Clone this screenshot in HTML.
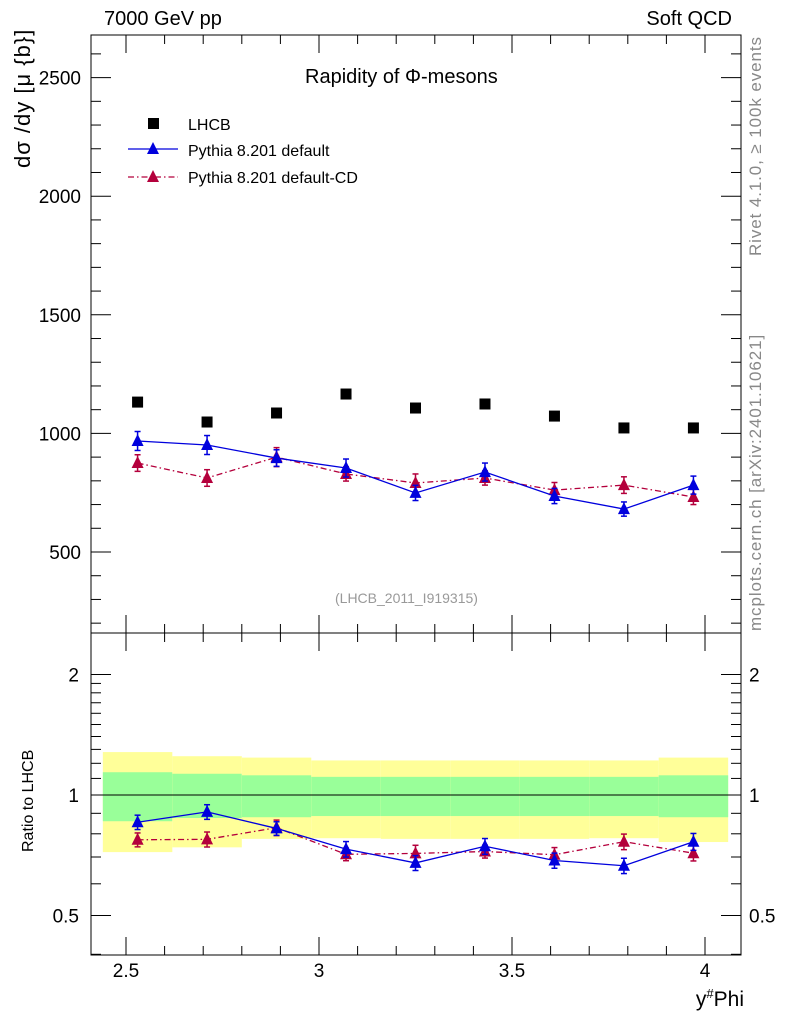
<!DOCTYPE html>
<html><head><meta charset="utf-8"><style>
body{margin:0;background:#fff;}
svg{display:block;font-family:"Liberation Sans",sans-serif;}
</style></head><body>
<svg id="c" width="786" height="1024" viewBox="0 0 786 1024"></svg>
<script>
const xCenters=[2.53,2.71,2.89,3.07,3.25,3.43,3.61,3.79,3.97];
const binHalf=0.09;
const lhcb=[1132,1048,1086,1166,1107,1124,1073,1023,1023];
const pyDef=[968,951,896,854,749,837,736,681,782];
const pyDefErr=[40,40,35,38,32,38,32,30,38];
const pyCD=[875,812,900,829,791,812,761,782,732];
const pyCDErr=[35,35,40,30,38,30,32,35,32];
const yelUp=[1.28,1.25,1.24,1.22,1.22,1.22,1.22,1.22,1.24];
const grnUp=[1.14,1.13,1.12,1.11,1.11,1.11,1.11,1.11,1.12];
const grnLo=[0.86,0.876,0.88,0.886,0.886,0.886,0.886,0.886,0.88];
const yelLo=[0.72,0.74,0.777,0.78,0.777,0.777,0.777,0.78,0.763];
const mainTicks=[500,1000,1500,2000,2500];
const ratioTicks=[0.5,1,2];
const xTicks=[2.5,3,3.5,4];

const svg=document.getElementById('c');
const NS='http://www.w3.org/2000/svg';
function el(t,a,p){const e=document.createElementNS(NS,t);for(const k in a)e.setAttribute(k,a[k]);(p||svg).appendChild(e);return e;}
const L=91,R=741,T=35,MB=633,RB=955;
const X=v=>126+(v-2.5)*386;
const Y=v=>552-(v-500)*0.2372;
const RY=v=>795-120.5*Math.log2(v);

for(let i=0;i<xCenters.length;i++){
 const x0=X(xCenters[i]-binHalf),x1=X(xCenters[i]+binHalf);
 let b=el('rect',{x:x0,y:RY(yelUp[i]),width:x1-x0,height:RY(yelLo[i])-RY(yelUp[i]),fill:'#ffff99'});
 
 
 b=el('rect',{x:x0,y:RY(grnUp[i]),width:x1-x0,height:RY(grnLo[i])-RY(grnUp[i]),fill:'#99ff99'});
 
 
}
el('line',{x1:L,x2:R,y1:RY(1),y2:RY(1),stroke:'#000','stroke-width':1});

el('rect',{x:L,y:T,width:R-L,height:MB-T,fill:'none',stroke:'#000','stroke-width':1});
el('rect',{x:L,y:MB,width:R-L,height:RB-MB,fill:'none',stroke:'#000','stroke-width':1});

for(let v=200;v<=2600;v+=100){const y=Y(v);if(y<T||y>MB)continue;const m=v%500===0;const l=m?20:10;
 el('line',{x1:L,x2:L+l,y1:y,y2:y,stroke:'#000'});el('line',{x1:R,x2:R-l,y1:y,y2:y,stroke:'#000'});}
mainTicks.forEach(v=>{const t=el('text',{x:L-10,y:Y(v)+7,'text-anchor':'end','font-size':19});t.textContent=v;
 });
for(let v=0.4;v<=2.05;v+=0.1){const vv=Math.round(v*10)/10;const y=RY(vv);if(y<MB||y>RB)continue;
 const m=ratioTicks.includes(vv);const l=m?20:10;
 el('line',{x1:L,x2:L+l,y1:y,y2:y,stroke:'#000'});el('line',{x1:R,x2:R-l,y1:y,y2:y,stroke:'#000'});}
ratioTicks.forEach(v=>{let t=el('text',{x:L-12,y:RY(v)+7,'text-anchor':'end','font-size':19});t.textContent=v;
 
 t=el('text',{x:R+8,y:RY(v)+7,'font-size':19});t.textContent=v;
 });
for(let v=2.4;v<=4.1;v+=0.1){const vv=Math.round(v*10)/10;const x=X(vv);if(x<L||x>R)continue;const m=Math.abs(vv*2-Math.round(vv*2))<1e-6;const l=m?18:9;
 [T,MB].forEach(y=>el('line',{x1:x,x2:x,y1:y,y2:y+l,stroke:'#000'}));
 [MB,RB].forEach(y=>el('line',{x1:x,x2:x,y1:y,y2:y-l,stroke:'#000'}));}
xTicks.forEach(v=>{const t=el('text',{x:X(v),y:977,'text-anchor':'middle','font-size':19});t.textContent=v;
 });

function tri(x,y,c,g){el('polygon',{points:`${x},${y-7} ${x-6},${y+5} ${x+6},${y+5}`,fill:c},g);}
function series(vals,errs,c,dash,name,yf,ratio){
 const g=el('g',{});
 const pts=vals.map((v,i)=>[X(xCenters[i]),yf(ratio?v/lhcb[i]:v)]);
 el('polyline',{points:pts.map(p=>p.join(',')).join(' '),fill:'none',stroke:c,'stroke-width':1.3,'stroke-dasharray':dash},g);
 vals.forEach((v,i)=>{const x=pts[i][0];const hi=yf(ratio?(v+errs[i])/lhcb[i]:v+errs[i]),lo=yf(ratio?(v-errs[i])/lhcb[i]:v-errs[i]);
  el('line',{x1:x,x2:x,y1:hi,y2:lo,stroke:c,'stroke-width':1.5},g);
  el('line',{x1:x-3,x2:x+3,y1:hi,y2:hi,stroke:c,'stroke-width':1.5},g);
  el('line',{x1:x-3,x2:x+3,y1:lo,y2:lo,stroke:c,'stroke-width':1.5},g);
  tri(x,pts[i][1],c,g);});
}
const gl=el('g',{});
lhcb.forEach((v,i)=>el('rect',{x:X(xCenters[i])-5.5,y:Y(v)-5.5,width:11,height:11,fill:'#000'},gl));
series(pyCD,pyCDErr,'#b4003c','6,3,1.5,3','pythia-cd-series',Y,false);
series(pyDef,pyDefErr,'#0000dd','','pythia-default-series',Y,false);
series(pyCD,pyCDErr,'#b4003c','6,3,1.5,3','pythia-cd-ratio',RY,true);
series(pyDef,pyDefErr,'#0000dd','','pythia-default-ratio',RY,true);

el('rect',{x:148,y:118,width:11,height:11,fill:'#000'});
el('line',{x1:128,x2:178,y1:149,y2:149,stroke:'#0000dd','stroke-width':1.3});tri(153,149,'#0000dd');
el('line',{x1:128,x2:178,y1:177,y2:177,stroke:'#b4003c','stroke-width':1.3,'stroke-dasharray':'6,3,1.5,3'});tri(153,177,'#b4003c');
[['LHCB',130],['Pythia 8.201 default',156],['Pythia 8.201 default-CD',183]].forEach(([s,y])=>{const t=el('text',{x:188,y:y,'font-size':16});t.textContent=s;
 });
</script>
<div style="position:absolute;left:0;top:0;width:786px;height:1024px;font-family:'Liberation Sans',sans-serif;pointer-events:none">
<div style="position:absolute;left:104px;top:8px;font-size:20px">7000 GeV pp</div>
<div style="position:absolute;right:54px;top:8px;font-size:20px">Soft QCD</div>
<div style="position:absolute;left:305px;top:66px;font-size:20px">Rapidity of Φ-mesons</div>
<div style="position:absolute;left:10px;top:168px;font-size:22px;letter-spacing:1px;transform:rotate(-90deg);transform-origin:0 0;white-space:nowrap">dσ /dy [μ {b}]</div>
<div style="position:absolute;left:20px;top:852px;font-size:16px;transform:rotate(-90deg);transform-origin:0 0;white-space:nowrap">Ratio to LHCB</div>
<div style="position:absolute;right:42px;top:986px;font-size:21px">y<sup style="font-size:13px">#</sup>Phi</div>
<div style="position:absolute;left:335px;top:590px;font-size:14px;color:#999">(LHCB_2011_I919315)</div>
<div style="position:absolute;left:746px;top:256px;font-size:17px;letter-spacing:0.9px;color:#888;transform:rotate(-90deg);transform-origin:0 0;white-space:nowrap">Rivet 4.1.0, ≥ 100k events</div>
<div style="position:absolute;left:746px;top:631px;font-size:17px;letter-spacing:0.9px;color:#888;transform:rotate(-90deg);transform-origin:0 0;white-space:nowrap">mcplots.cern.ch [arXiv:2401.10621]</div>
</div>
</body></html>
